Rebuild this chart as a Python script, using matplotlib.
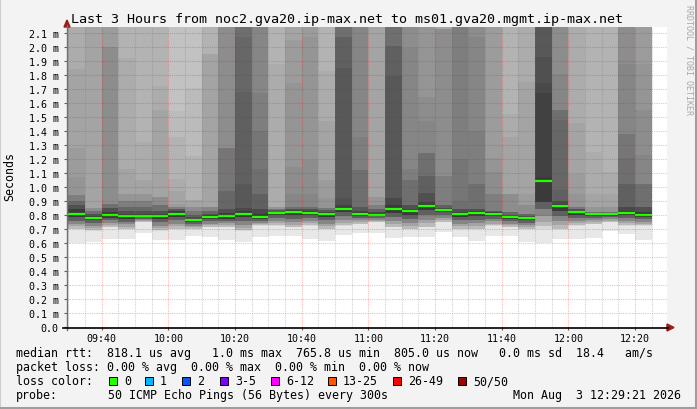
import numpy as np
import matplotlib
matplotlib.use("Agg")
import matplotlib.pyplot as plt
from matplotlib.patches import Rectangle, Polygon
from matplotlib.lines import Line2D

# ------------- DATA -------------
title = "Last 3 Hours from noc2.gva20.ip-max.net to ms01.gva20.mgmt.ip-max.net"

first_col_min = 30      # first 5 min column starts at 09:30 (minutes after 09:00)
step_min = 5
pings = 50

# median rtt of every 5 min column, ms
medians = [0.807, 0.781, 0.802, 0.793, 0.793, 0.793, 0.810, 0.766, 0.788, 0.793,
           0.810, 0.788, 0.817, 0.824, 0.817, 0.810, 0.845, 0.810, 0.802, 0.845,
           0.831, 0.867, 0.838, 0.810, 0.817, 0.810, 0.788, 0.781, 1.045, 0.867,
           0.824, 0.810, 0.810, 0.817, 0.802]

# k-th lowest ping (ms) for these k
low_ranks = [1, 3, 7, 10, 14, 19, 24]
smoke_low = [
    [.600, .700, .703, .719, .737, .760, .783],
    [.609, .688, .691, .705, .721, .740, .761],
    [.629, .712, .715, .728, .744, .762, .782],
    [.629, .700, .703, .717, .733, .752, .773],
    [.669, .748, .750, .756, .764, .773, .783],
    [.624, .688, .691, .707, .725, .747, .770],
    [.624, .700, .703, .720, .739, .762, .786],
    [.652, .700, .703, .712, .723, .737, .751],
    [.643, .712, .715, .726, .739, .755, .771],
    [.624, .712, .715, .727, .740, .757, .775],
    [.609, .688, .691, .710, .731, .756, .783],
    [.643, .724, .727, .736, .746, .760, .774],
    [.652, .724, .727, .741, .757, .776, .797],
    [.652, .712, .715, .732, .751, .775, .799],
    [.629, .724, .727, .741, .757, .776, .797],
    [.614, .700, .703, .720, .739, .762, .786],
    [.657, .724, .727, .746, .766, .792, .818],
    [.671, .736, .739, .749, .762, .777, .794],
    [.671, .748, .750, .758, .767, .778, .790],
    [.636, .712, .715, .736, .759, .786, .816],
    [.643, .700, .703, .724, .746, .773, .802],
    [.643, .712, .715, .740, .766, .799, .833],
    [.676, .748, .751, .764, .780, .798, .818],
    [.643, .700, .703, .720, .739, .762, .786],
    [.614, .700, .703, .721, .741, .766, .791],
    [.652, .724, .727, .739, .754, .772, .791],
    [.652, .712, .715, .726, .739, .755, .771],
    [.609, .700, .703, .715, .728, .745, .763],
    [.600, .700, .720, .750, .790, .840, .890],
    [.629, .700, .703, .730, .758, .794, .830],
    [.629, .724, .727, .742, .759, .780, .802],
    [.636, .736, .739, .749, .762, .777, .794],
    [.688, .748, .751, .759, .770, .783, .796],
    [.664, .724, .727, .741, .757, .776, .797],
    [.624, .724, .727, .738, .751, .768, .785],
]

# (k, k-th highest ping in ms); 9.9 = off the top of the graph
smoke_high = [
    [(9, 9.9), (10, 1.84), (11, 1.28), (12, 1.07), (15, 0.94), (18, 0.90), (21, 0.87), (24, 0.84)],
    [(10, 9.9), (13, 0.85), (17, 0.83), (21, 0.81), (24, 0.795)],
    [(11, 9.9), (13, 2.00), (17, 0.88), (21, 0.85), (24, 0.825)],
    [(8, 9.9), (9, 1.92), (10, 1.13), (12, 0.95), (15, 0.90), (18, 0.86), (21, 0.83), (24, 0.81)],
    [(8, 9.9), (9, 1.32), (10, 1.05), (12, 0.95), (15, 0.90), (18, 0.86), (21, 0.83), (24, 0.81)],
    [(8, 9.9), (9, 1.72), (10, 1.55), (13, 0.93), (17, 0.87), (21, 0.83), (24, 0.81)],
    [(6, 9.9), (7, 1.54), (8, 1.36), (9, 1.06), (10, 0.97), (11, 0.88), (15, 0.86), (20, 0.845), (24, 0.83)],
    [(6, 9.9), (7, 1.71), (8, 1.22), (10, 0.91), (13, 0.855), (16, 0.83), (19, 0.80), (22, 0.785), (24, 0.775)],
    [(8, 9.9), (10, 1.95), (14, 0.86), (18, 0.83), (21, 0.81), (24, 0.80)],
    [(13, 9.9), (16, 1.28), (18, 0.97), (21, 0.84), (24, 0.815)],
    [(17, 9.9), (18, 2.07), (19, 1.68), (20, 1.02), (22, 0.85), (24, 0.83)],
    [(14, 9.9), (15, 1.67), (16, 1.40), (17, 1.13), (19, 0.95), (22, 0.84), (24, 0.81)],
    [(8, 9.9), (9, 1.88), (12, 0.86), (16, 0.845), (20, 0.835), (24, 0.825)],
    [(10, 9.9), (11, 2.05), (12, 1.74), (13, 1.14), (14, 0.95), (17, 0.86), (21, 0.845), (24, 0.835)],
    [(11, 9.9), (12, 2.07), (13, 1.19), (14, 0.95), (17, 0.86), (21, 0.84), (24, 0.83)],
    [(8, 9.9), (9, 1.83), (10, 1.47), (11, 1.05), (12, 0.92), (16, 0.85), (20, 0.835), (24, 0.82)],
    [(17, 9.9), (19, 2.07), (20, 1.85), (21, 0.92), (23, 0.87), (24, 0.855)],
    [(14, 9.9), (15, 1.36), (17, 1.12), (20, 0.86), (23, 0.83), (24, 0.82)],
    [(10, 9.9), (12, 0.93), (15, 0.875), (19, 0.845), (22, 0.825), (24, 0.815)],
    [(17, 9.9), (19, 2.01), (20, 1.79), (22, 0.92), (24, 0.87)],
    [(13, 9.9), (14, 1.99), (15, 1.13), (17, 1.05), (21, 0.87), (24, 0.845)],
    [(12, 9.9), (13, 1.64), (14, 1.47), (17, 1.24), (19, 1.08), (21, 0.96), (23, 0.89), (24, 0.88)],
    [(10, 9.9), (13, 2.13), (15, 1.08), (19, 0.87), (23, 0.85)],
    [(15, 9.9), (16, 1.20), (17, 0.90), (21, 0.84), (24, 0.82)],
    [(13, 9.9), (14, 2.07), (15, 1.40), (17, 1.02), (21, 0.845), (24, 0.83)],
    [(11, 9.9), (12, 1.21), (13, 1.11), (15, 0.95), (20, 0.83), (24, 0.82)],
    [(8, 9.9), (9, 1.52), (10, 1.36), (13, 0.95), (18, 0.82), (22, 0.80), (24, 0.795)],
    [(9, 9.9), (10, 1.75), (11, 0.95), (13, 0.87), (18, 0.81), (22, 0.795), (24, 0.788)],
    [(20, 9.9), (21, 1.93), (22, 1.74), (23, 1.67), (24, 1.07)],
    [(13, 9.9), (14, 1.81), (17, 1.55), (18, 1.48), (19, 0.98), (22, 0.90), (24, 0.88)],
    [(9, 9.9), (10, 1.46), (11, 1.09), (12, 0.95), (16, 0.86), (21, 0.84), (24, 0.83)],
    [(8, 9.9), (9, 1.25), (10, 0.95), (12, 0.86), (18, 0.825), (24, 0.815)],
    [(8, 9.9), (9, 1.11), (10, 0.95), (12, 0.86), (18, 0.825), (24, 0.815)],
    [(13, 9.9), (14, 1.88), (16, 1.38), (17, 1.21), (19, 1.02), (22, 0.86), (24, 0.83)],
    [(11, 9.9), (12, 1.88), (13, 1.55), (14, 1.23), (17, 1.02), (21, 0.86), (24, 0.82)],
]

y_ticks = [0.0, 0.1, 0.2, 0.3, 0.4, 0.5, 0.6, 0.7, 0.8, 0.9, 1.0,
           1.1, 1.2, 1.3, 1.4, 1.5, 1.6, 1.7, 1.8, 1.9, 2.0, 2.1]
y_labels = ["0.0"] + ["%.1f m" % v for v in y_ticks[1:]]
time_ticks = [40, 60, 80, 100, 120, 140, 160, 180, 200]
time_labels = ["09:40", "10:00", "10:20", "10:40", "11:00", "11:20", "11:40", "12:00", "12:20"]

stats_line = "median rtt:  818.1 us avg   1.0 ms max  765.8 us min  805.0 us now   0.0 ms sd  18.4   am/s"
loss_line = "packet loss: 0.00 % avg  0.00 % max  0.00 % min  0.00 % now"
loss_labels = ["0", "1", "2", "3-5", "6-12", "13-25", "26-49", "50/50"]
loss_colors = ["#26ff00", "#00b8ff", "#0059ff", "#7e00ff", "#ff00ff", "#ff5500", "#ff0000", "#a10000"]
probe_text = "50 ICMP Echo Pings (56 Bytes) every 300s"
stamp = "Mon Aug  3 12:29:21 2026"


# ------------- FIGURE -------------
W, H = 697, 410
MONO = "DejaVu Sans Mono"
plt.rcParams["font.family"] = MONO

fig = plt.figure(figsize=(W / 100, H / 100), dpi=100, facecolor="#f3f3f3")


def fx(x):
    return x / W


def fy(y):
    return 1 - y / H


# canvas frame
fig.add_artist(Rectangle((0, 0), 1, 1, transform=fig.transFigure, fill=False,
                         edgecolor="#cfcfcf", linewidth=1.5))
fig.add_artist(Line2D([fx(695.5), fx(695.5)], [0, 1], transform=fig.transFigure,
                      color="#9e9e9e", linewidth=2.2))
fig.add_artist(Line2D([0, 1], [fy(408.5), fy(408.5)], transform=fig.transFigure,
                      color="#9e9e9e", linewidth=2.2))

ax = fig.add_axes([fx(67), fy(328), 600 / W, 300 / H])
t0, t1 = 29.6, 209.6
ax.set_xlim(t0, t1)
ax.set_ylim(0, 300 / 140)
ax.set_facecolor("white")
for s in ax.spines.values():
    s.set_visible(False)


def shade(k):
    g = (50 + 190 * (pings / 2 - k) / (pings / 2)) / 255
    return (g, g, g)


# ------------- SMOKE -------------
for i, med in enumerate(medians):
    start = first_col_min + i * step_min
    x0 = max(start, t0)
    x1 = start + step_min
    for k, v in zip(low_ranks, smoke_low[i]):
        ax.bar(x0, med - v, width=x1 - x0, bottom=v, align="edge", color=shade(k),
               linewidth=0, antialiased=False, zorder=1)
    for k, v in smoke_high[i]:
        ax.bar(x0, v - med, width=x1 - x0, bottom=med, align="edge", color=shade(k),
               linewidth=0, antialiased=False, zorder=1)
    ax.plot([x0, x1], [med, med], color=loss_colors[0], linewidth=1.6,
            solid_capstyle="butt", zorder=3)

# ------------- GRID -------------
for v in y_ticks[1:]:
    ax.axhline(v, color=(1, 0, 0, 0.28), linewidth=0.8, linestyle=(0, (1, 1)), zorder=4)
for t in np.arange(first_col_min, t1, step_min):
    if t in time_ticks:
        continue
    ax.axvline(t, color=(0.45, 0.45, 0.45, 0.3), linewidth=0.8, linestyle=(0, (1, 1)), zorder=4)
for t in time_ticks:
    ax.axvline(t, color=(1, 0, 0, 0.28), linewidth=0.8, linestyle=(0, (1, 1)), zorder=4)

ax.set_yticks(y_ticks)
ax.set_yticklabels(y_labels, fontsize=7.2, family=MONO)
ax.set_xticks(time_ticks)
ax.set_xticklabels(time_labels, fontsize=7.2, family=MONO)
ax.tick_params(axis="y", length=2.5, width=0.8, color="#606060", pad=3.5)
ax.tick_params(axis="x", length=2, width=0.8, color="#606060", pad=2)

# axes with arrows
fig.add_artist(Line2D([fx(67), fx(67)], [fy(331), fy(26)], transform=fig.transFigure,
                      color="#707070", linewidth=1.0))
fig.add_artist(Line2D([fx(63), fx(668)], [fy(328.5), fy(328.5)], transform=fig.transFigure,
                      color="black", linewidth=1.2))
fig.add_artist(Polygon([(fx(64), fy(28)), (fx(70), fy(28)), (fx(67), fy(21))],
                       closed=True, transform=fig.transFigure, color="#9b1a1a"))
fig.add_artist(Polygon([(fx(667), fy(325)), (fx(667), fy(332)), (fx(674), fy(328.5))],
                       closed=True, transform=fig.transFigure, color="#9b1a1a"))

# ------------- TEXT -------------
fig.text(fx(347), fy(19), title, fontsize=9.6, ha="center", va="center")
fig.text(fx(10), fy(177), "Seconds", fontsize=8.4, rotation=90, ha="center", va="center")
fig.text(fx(689), fy(60), "RRDTOOL / TOBI OETIKER", fontsize=6, rotation=270,
         ha="center", va="center", color="#a8a8a8")

rows = [354, 368, 382, 396]
fig.text(fx(16), fy(rows[0]), stats_line, fontsize=8.4, va="center")
fig.text(fx(16), fy(rows[1]), loss_line, fontsize=8.4, va="center")
fig.text(fx(16), fy(rows[2]), "loss color:", fontsize=8.4, va="center")
box_x = [109, 145, 182, 220, 271, 328, 393, 458]
for bx, lab, col in zip(box_x, loss_labels, loss_colors):
    fig.add_artist(Rectangle((fx(bx), fy(rows[2] + 4)), 8 / W, 8 / H, transform=fig.transFigure,
                             facecolor=col, edgecolor="black", linewidth=0.7))
    fig.text(fx(bx + 15), fy(rows[2]), lab, fontsize=8.4, va="center")
fig.text(fx(16), fy(rows[3]), "probe:", fontsize=8.4, va="center")
fig.text(fx(108), fy(rows[3]), probe_text, fontsize=8.4, va="center")
fig.text(fx(681), fy(rows[3]), stamp, fontsize=8.4, va="center", ha="right")

fig.savefig("out.png", dpi=100, facecolor=fig.get_facecolor())
